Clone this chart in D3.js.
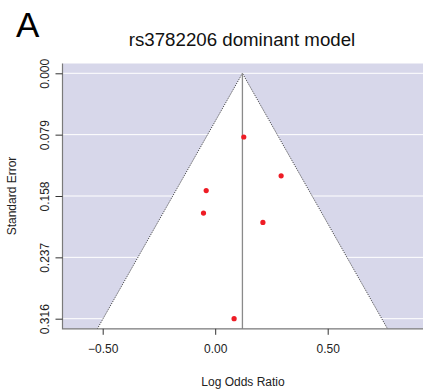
<!DOCTYPE html>
<html>
<head>
<meta charset="utf-8">
<script src="https://cdn.jsdelivr.net/npm/d3@7"></script>
<style>
  body { margin: 0; background: #fff; }
  svg { display: block; font-family: "Liberation Sans", Arial, sans-serif; }
</style>
</head>
<body>
<div id="chart"></div>
<script>
// study data
let logOR = [0.127, 0.293, -0.040, -0.052, 0.212, 0.084];
let stdErr = [0.082, 0.132, 0.151, 0.180, 0.192, 0.316];
let summary = 0.121;
let xTicks = [-0.5, 0, 0.5];
let yTicks = [0, 0.079, 0.158, 0.237, 0.316];

let W = 423, H = 391;
let plotLeft = 62.5, plotRight = 440, plotTop = 63.5, plotBottom = 328.8;

let x = d3.scaleLinear().domain([-0.5, 0.5]).range([102.7, 327.7]);
let y = d3.scaleLinear().domain([0, 0.316]).range([73.3, 318.7]);

let svg = d3.select("#chart").append("svg")
    .attr("width", W)
    .attr("height", H);

// background outside funnel
svg.append("rect")
    .attr("x", plotLeft).attr("y", plotTop)
    .attr("width", plotRight - plotLeft).attr("height", plotBottom - plotTop)
    .attr("fill", "#d7d7ea");

// grid lines
svg.selectAll(".grid")
    .data(yTicks)
    .enter().append("line")
    .attr("x1", plotLeft).attr("x2", plotRight)
    .attr("y1", d => y(d)).attr("y2", d => y(d))
    .attr("stroke", "#fff")
    .attr("stroke-width", 1);

// funnel region
let seMax = y.invert(plotBottom);
let funnel = [
  [x(summary - 1.96 * seMax), plotBottom],
  [x(summary), y(0)],
  [x(summary + 1.96 * seMax), plotBottom]
];
svg.append("polygon")
    .attr("points", funnel.map(p => p.join(",")).join(" "))
    .attr("fill", "#fff");

svg.append("polyline")
    .attr("points", funnel.map(p => p.join(",")).join(" "))
    .attr("fill", "none")
    .attr("stroke", "#222")
    .attr("stroke-width", 0.9)
    .attr("stroke-dasharray", "1,1.2");

// summary line
svg.append("line")
    .attr("x1", x(summary)).attr("x2", x(summary))
    .attr("y1", y(0)).attr("y2", plotBottom)
    .attr("stroke", "#8a8a8a")
    .attr("stroke-width", 1.3);

// L box
svg.append("path")
    .attr("d", `M${plotLeft},${plotTop}V${plotBottom}H${plotRight}`)
    .attr("fill", "none")
    .attr("stroke", "#7a7a7a")
    .attr("stroke-width", 1.2);

// points
svg.selectAll(".pt")
    .data(logOR)
    .enter().append("circle")
    .attr("cx", d => x(d))
    .attr("cy", (d, i) => y(stdErr[i]))
    .attr("r", 2.6)
    .attr("fill", "#ee1c25");

// x axis
let xAxis = d3.axisBottom(x).tickValues(xTicks).tickFormat(d3.format(".2f")).tickSize(6).tickPadding(10);
let gx = svg.append("g")
    .attr("transform", `translate(0,${plotBottom})`)
    .call(xAxis);
gx.select(".domain").remove();
gx.selectAll("line").attr("stroke", "#333");
gx.selectAll("text").attr("font-size", 12).attr("fill", "#222")
    .attr("font-family", "Liberation Sans, Arial, sans-serif");

// y axis
let yAxis = d3.axisLeft(y).tickValues(yTicks).tickFormat(d3.format(".3f")).tickSize(7);
let gy = svg.append("g")
    .attr("transform", `translate(${plotLeft},0)`)
    .call(yAxis);
gy.select(".domain").remove();
gy.selectAll("line").attr("stroke", "#333");
gy.selectAll("text")
    .attr("font-size", 12).attr("fill", "#222")
    .attr("font-family", "Liberation Sans, Arial, sans-serif")
    .attr("x", null).attr("dy", null)
    .attr("text-anchor", "middle")
    .attr("transform", "translate(-18,0) rotate(-90)")
    .attr("y", 0)
    .attr("dy", "0.35em");

// labels
svg.append("text")
    .attr("x", 242).attr("y", 46)
    .attr("text-anchor", "middle")
    .attr("font-size", 18.7)
    .attr("fill", "#111")
    .text("rs3782206 dominant model");

svg.append("text")
    .attr("x", 16).attr("y", 37)
    .attr("font-size", 35)
    .attr("fill", "#000")
    .text("A");

svg.append("text")
    .attr("x", 243).attr("y", 386)
    .attr("text-anchor", "middle")
    .attr("font-size", 12)
    .attr("fill", "#222")
    .text("Log Odds Ratio");

svg.append("text")
    .attr("transform", "translate(16,196) rotate(-90)")
    .attr("text-anchor", "middle")
    .attr("font-size", 12)
    .attr("fill", "#222")
    .text("Standard Error");
</script>
</body>
</html>
